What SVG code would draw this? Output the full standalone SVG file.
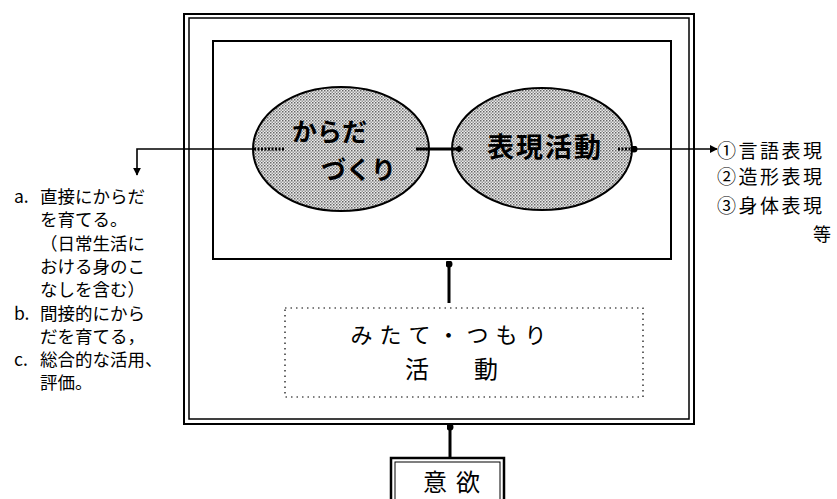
<svg xmlns="http://www.w3.org/2000/svg" width="837" height="499" viewBox="0 0 837 499">
<defs>
<pattern id="stip" width="3" height="3" patternUnits="userSpaceOnUse">
<rect width="3" height="3" fill="#ececec"/>
<rect x="0" y="0" width="1.5" height="1.5" fill="#666"/>
<rect x="1.5" y="1.5" width="1.5" height="1.5" fill="#999"/>
</pattern>
<marker id="arr" viewBox="0 0 10 10" refX="9" refY="5" markerWidth="8" markerHeight="8" markerUnits="userSpaceOnUse" orient="auto">
<path d="M0,0 L10,5 L0,10 Z" fill="#000"/>
</marker>
<marker id="dia" viewBox="0 0 10 10" refX="5" refY="5" markerWidth="9" markerHeight="9" markerUnits="userSpaceOnUse" orient="auto">
<path d="M0,5 L5,1 L10,5 L5,9 Z" fill="#000"/>
</marker>
<marker id="dot" viewBox="0 0 10 10" refX="5" refY="5" markerWidth="7" markerHeight="7" markerUnits="userSpaceOnUse">
<circle cx="5" cy="5" r="5" fill="#000"/>
</marker>
</defs>
<style>
.t{font-family:"Noto Sans CJK JP","Noto Sans CJK SC",sans-serif;fill:#000}
.ln{fill:none;stroke:#000}
.el{fill:url(#stip);stroke:#000;stroke-width:2}
</style>
<g id="outer-box">
<rect x="184" y="14" width="510" height="410" class="ln" stroke-width="2"/>
<rect x="189" y="18" width="500" height="401" class="ln" stroke-width="1.5"/>
</g>
<g id="inner-box">
<rect x="213" y="41" width="458" height="218" class="ln" stroke-width="2"/>
</g>
<g id="karada">
<ellipse cx="341" cy="149" rx="88" ry="62" class="el"/>
<text class="t" x="292" y="141" font-size="25" font-weight="bold">からだ</text>
<text class="t" x="321" y="179" font-size="25" font-weight="bold">づくり</text>
</g>
<g id="hyogen">
<ellipse cx="542" cy="149" rx="90" ry="61" class="el"/>
<text class="t" x="487" y="157" font-size="27" font-weight="bold" letter-spacing="2">表現活動</text>
</g>
<g id="mitate">
<rect x="285" y="308" width="358" height="89" fill="none" stroke="#000" stroke-width="1.2" stroke-dasharray="1.5 4"/>
<text class="t" x="452" y="343" font-size="22" text-anchor="middle" letter-spacing="7">みたて・つもり</text>
<text class="t" x="405" y="378" font-size="24">活</text>
<text class="t" x="474" y="378" font-size="24">動</text>
</g>
<g id="iyoku">
<rect x="391" y="458" width="113" height="50" class="ln" stroke-width="2.5"/>
<rect x="395" y="462" width="105" height="45" class="ln" stroke-width="1"/>
<text class="t" x="423" y="491" font-size="24" letter-spacing="9">意欲</text>
</g>
<g id="right-list" class="t" font-size="19" letter-spacing="2.5">
<text x="717" y="158">①言語表現</text>
<text x="717" y="184">②造形表現</text>
<text x="717" y="213">③身体表現</text>
<text x="813" y="241" font-size="18" letter-spacing="0">等</text>
</g>
<g id="left-list" class="t" font-size="17.5">
<text x="14" y="203">a.</text><text x="40" y="203">直接にからだ</text>
<text x="40" y="226">を育てる。</text>
<text x="40" y="250">（日常生活に</text>
<text x="40" y="273">おける身のこ</text>
<text x="40" y="296">なしを含む）</text>
<text x="14" y="320">b.</text><text x="40" y="320">間接的にから</text>
<text x="40" y="343">だを育てる，</text>
<text x="14" y="366">c.</text><text x="40" y="366">総合的な活用、</text>
<text x="40" y="389">評価。</text>
</g>
<g id="connectors">
<path d="M254,149 H137 V175" class="ln" stroke-width="1.6" marker-end="url(#arr)"/>
<path d="M254,149 H284" class="ln" stroke-width="3" stroke-dasharray="2 1.5"/>
<path d="M416,149 H459" class="ln" stroke-width="3" marker-end="url(#dia)"/>
<path d="M618,149 H634" class="ln" stroke-width="3" stroke-dasharray="2 1.5"/>
<path d="M634,149 H717" class="ln" stroke-width="1.6" marker-start="url(#dot)" marker-end="url(#arr)"/>
<path d="M449,303 V264" class="ln" stroke-width="3" marker-end="url(#dot)"/>
<path d="M450,458 V427" class="ln" stroke-width="3" marker-end="url(#dot)"/>
</g>
</svg>
